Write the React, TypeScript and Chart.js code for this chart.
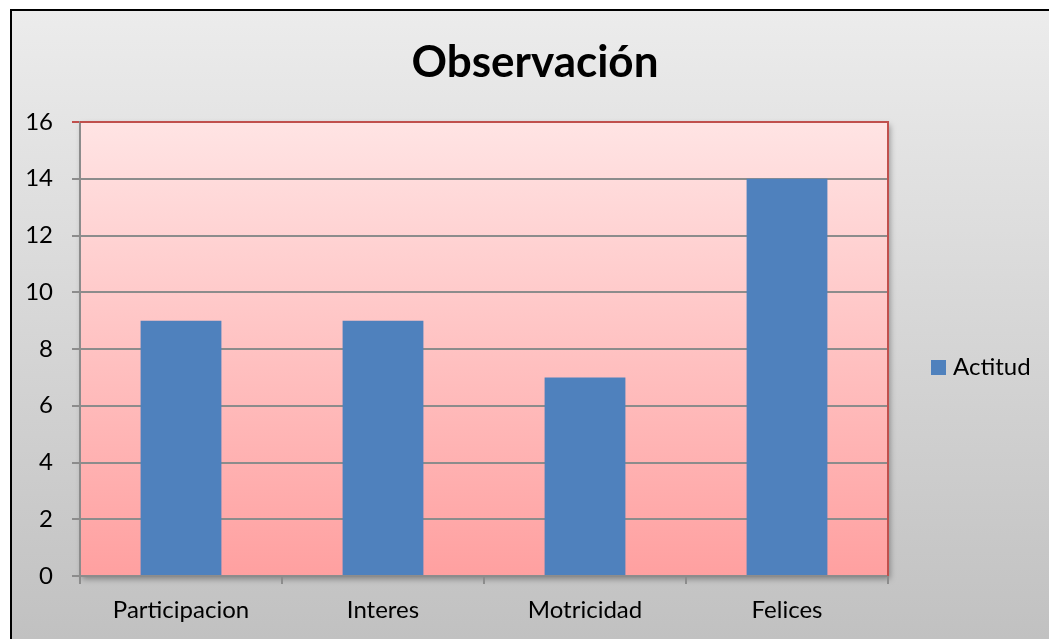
import React, { useEffect, useRef } from "react";
import { Chart, registerables } from "chart.js";

Chart.register(...registerables);

const categories = ["Participacion", "Interes", "Motricidad", "Felices"];
const seriesName = "Actitud";
const seriesValues = [9, 9, 7, 14];
const yTicks = [0, 2, 4, 6, 8, 10, 12, 14, 16];
const titleText = "Observación";

const FONT = "Lato";
const BAR = "#4f81bd";
const RED = "#c0504d";
const GRID = "#8c8c8c";

const decor = {
  id: "decor",
  beforeDraw(chart: any) {
    const { ctx, chartArea: a, width, height } = chart;
    ctx.save();
    ctx.fillStyle = "#ffffff";
    ctx.fillRect(0, 0, width, height);
    const g = ctx.createLinearGradient(0, 10, 0, height);
    g.addColorStop(0, "#ececec");
    g.addColorStop(1, "#c1c1c1");
    ctx.fillStyle = g;
    ctx.fillRect(11, 10, width + 20, height + 20);
    ctx.strokeStyle = "#000000";
    ctx.lineWidth = 2;
    ctx.strokeRect(11, 10, width + 20, height + 20);
    // plot background with shadow
    ctx.shadowColor = "rgba(0,0,0,0.35)";
    ctx.shadowBlur = 6;
    ctx.shadowOffsetX = 2;
    ctx.shadowOffsetY = 3;
    const pg = ctx.createLinearGradient(0, a.top, 0, a.bottom);
    pg.addColorStop(0, "#ffe4e4");
    pg.addColorStop(1, "#ffa0a0");
    ctx.fillStyle = pg;
    ctx.fillRect(a.left, a.top, a.right - a.left, a.bottom - a.top);
    ctx.restore();
  },
  afterDraw(chart: any) {
    const { ctx, chartArea: a } = chart;
    ctx.save();
    ctx.strokeStyle = RED;
    ctx.lineWidth = 2;
    ctx.beginPath();
    ctx.moveTo(a.left, a.top);
    ctx.lineTo(a.right, a.top);
    ctx.lineTo(a.right, a.bottom);
    ctx.stroke();
    // title
    ctx.fillStyle = "#000";
    ctx.font = `bold 44px ${FONT}`;
    ctx.textAlign = "center";
    ctx.textBaseline = "alphabetic";
    ctx.fillText(titleText, 535, 77);
    // legend
    const ds = chart.data.datasets[0];
    ctx.fillStyle = ds.backgroundColor;
    ctx.fillRect(931, 360, 15, 15);
    ctx.fillStyle = "#000";
    ctx.font = `24px ${FONT}`;
    ctx.textAlign = "left";
    ctx.fillText(ds.label, 953, 375);
    ctx.restore();
  },
};

export default function App() {
  const ref = useRef<HTMLCanvasElement>(null);
  useEffect(() => {
    document.body.style.margin = "0";
    const chart = new Chart(ref.current!, {
      type: "bar",
      data: {
        labels: categories,
        datasets: [
          {
            label: seriesName,
            data: seriesValues,
            backgroundColor: BAR,
            categoryPercentage: 1,
            barPercentage: 0.4,
          },
        ],
      },
      options: {
        animation: false,
        responsive: false,
        devicePixelRatio: 1,
        layout: { padding: { left: 0, top: 122, right: 161, bottom: 0 } },
        plugins: { legend: { display: false }, title: { display: false }, tooltip: { enabled: false } },
        scales: {
          x: {
            afterFit: (s: any) => { s.height = 63; },
            grid: { drawOnChartArea: false, drawTicks: true, tickLength: 8, color: GRID, lineWidth: 2, offset: true },
            border: { color: GRID, width: 2 },
            ticks: { color: "#000", font: { family: FONT, size: 24 }, padding: 12 },
          },
          y: {
            min: 0,
            max: 16,
            afterFit: (s: any) => { s.width = 80; },
            afterBuildTicks: (s: any) => { s.ticks = yTicks.map((v) => ({ value: v })); },
            grid: {
              tickLength: 8,
              lineWidth: 2,
              color: (c: any) => (c.tick && c.tick.value === 16 ? RED : GRID),
            },
            border: { color: GRID, width: 2 },
            ticks: { color: "#000", font: { family: FONT, size: 24 }, padding: 19 },
          },
        },
      },
      plugins: [decor],
    });
    return () => chart.destroy();
  }, []);
  return (
    <div style={{ position: "fixed", left: 0, top: 0, width: 1049, height: 639 }}>
      <canvas ref={ref} width={1049} height={639} style={{ display: "block" }} />
    </div>
  );
}
